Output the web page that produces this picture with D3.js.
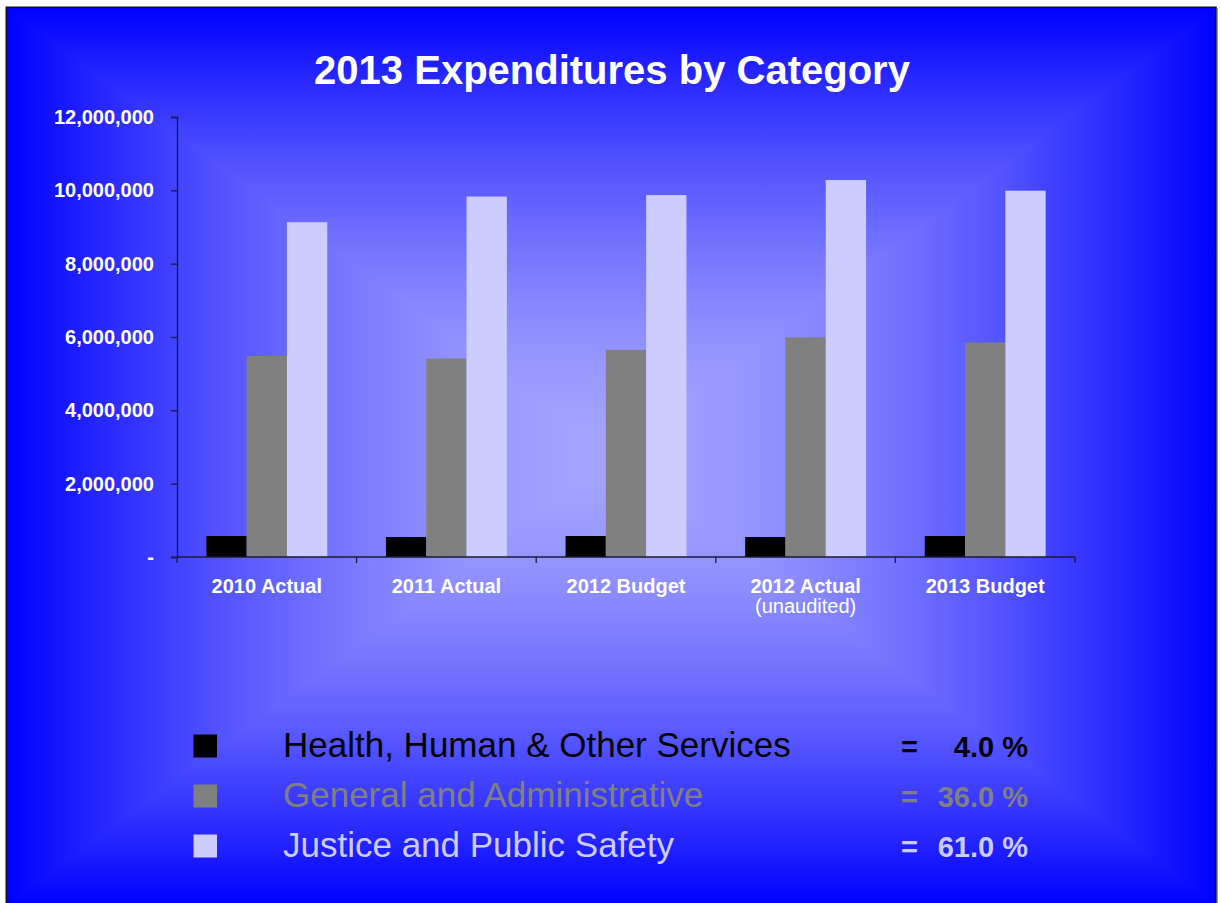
<!DOCTYPE html>
<html>
<head>
<meta charset="utf-8">
<script src="https://cdn.jsdelivr.net/npm/d3@7"></script>
<style>
  html, body { margin: 0; padding: 0; background: #ffffff; }
  svg { display: block; }
  text { font-family: "Liberation Sans", Arial, sans-serif; }
</style>
</head>
<body>
<svg id="chart" width="1222" height="903"></svg>
<script>
// ---- data ----
const categories = ["2010 Actual", "2011 Actual", "2012 Budget", "2012 Actual", "2013 Budget"];
const subLabels = ["", "", "", "(unaudited)", ""];
const seriesNames = ["Health, Human & Other Services", "General and Administrative", "Justice and Public Safety"];
const healthValues = [573000, 545000, 573000, 545000, 573000];
const generalValues = [5480000, 5410000, 5650000, 5990000, 5850000];
const justiceValues = [9130000, 9830000, 9870000, 10280000, 9990000];
const sharePercent = [4.0, 36.0, 61.0];
const yTicks = [0, 2000000, 4000000, 6000000, 8000000, 10000000, 12000000];

const seriesValues = [healthValues, generalValues, justiceValues];
const seriesColors = ["#000000", "#808080", "#ccccff"];

const svg = d3.select("#chart");
const W = 1222, H = 903;

// ---- slide background: rectangular gradient from a light centre to blue edges ----
const bg = { x0: 7, y0: 8, x1: 1216, y1: 905 };
const cx = (bg.x0 + bg.x1) / 2, cy = (bg.y0 + bg.y1) / 2;
const defs = svg.append("defs");
const edge = [0, 0, 255], centre = [164, 164, 255];
function shade(t) {
  const f = 1 - Math.pow(1 - t, 1.6);
  return d3.rgb(
    Math.round(edge[0] + (centre[0] - edge[0]) * f),
    Math.round(edge[1] + (centre[1] - edge[1]) * f),
    255
  ).formatHex();
}
const stopsT = d3.range(0, 1.0001, 0.05);
// top/bottom halves are drawn as a full band first; left/right wedges sit on top
const sides = [
  { id: "gTop", x1: cx, y1: bg.y0, x2: cx, y2: cy, pts: [[bg.x0, bg.y0], [bg.x1, bg.y0], [bg.x1, cy + 1], [bg.x0, cy + 1]] },
  { id: "gBottom", x1: cx, y1: bg.y1, x2: cx, y2: cy, pts: [[bg.x0, cy], [bg.x1, cy], [bg.x1, bg.y1], [bg.x0, bg.y1]] },
  { id: "gLeft", x1: bg.x0, y1: cy, x2: cx, y2: cy, pts: [[bg.x0, bg.y0], [cx, cy], [bg.x0, bg.y1]] },
  { id: "gRight", x1: bg.x1, y1: cy, x2: cx, y2: cy, pts: [[bg.x1, bg.y0], [cx, cy], [bg.x1, bg.y1]] }
];
sides.forEach(s => {
  const g = defs.append("linearGradient")
    .attr("id", s.id)
    .attr("gradientUnits", "userSpaceOnUse")
    .attr("x1", s.x1).attr("y1", s.y1).attr("x2", s.x2).attr("y2", s.y2);
  stopsT.forEach(t => g.append("stop").attr("offset", t).attr("stop-color", shade(t)));
});
const bgLayer = svg.append("g");
sides.forEach(s => {
  bgLayer.append("polygon")
    .attr("points", s.pts.map(p => p.join(",")).join(" "))
    .attr("fill", `url(#${s.id})`);
});
// slide frame
svg.append("rect")
  .attr("x", 6.25).attr("y", 7.25)
  .attr("width", bg.x1 - 6.25).attr("height", 920)
  .attr("fill", "none").attr("stroke", "#111111").attr("stroke-width", 1.5);
svg.append("line")
  .attr("x1", 1217.5).attr("x2", 1217.5).attr("y1", 8).attr("y2", H)
  .attr("stroke", "#9a9a9a").attr("stroke-width", 1);

// ---- title ----
svg.append("text")
  .attr("x", 612).attr("y", 84)
  .attr("text-anchor", "middle")
  .attr("fill", "#ffffff")
  .attr("font-size", 40).attr("font-weight", "bold")
  .text("2013 Expenditures by Category");

// ---- scales ----
const plot = { left: 177, right: 1075, top: 117, bottom: 557 };
const y = d3.scaleLinear().domain([0, 12000000]).range([plot.bottom, plot.top]);
const x0 = d3.scaleBand().domain(categories).range([plot.left, plot.right]).padding(0);
const x1 = d3.scaleBand().domain(d3.range(seriesValues.length))
  .range([0, x0.bandwidth()]).paddingInner(0).paddingOuter(0.728);

// ---- bars ----
const barsG = svg.append("g");
seriesValues.forEach((vals, si) => {
  barsG.selectAll(null)
    .data(vals.map((v, i) => ({ cat: categories[i], v })))
    .enter().append("rect")
    .attr("x", d => x0(d.cat) + x1(si))
    .attr("y", d => y(d.v))
    .attr("width", x1.bandwidth())
    .attr("height", d => y(0) - y(d.v))
    .attr("fill", seriesColors[si]);
});

// ---- y axis ----
const yAxis = d3.axisLeft(y)
  .tickValues(yTicks)
  .tickSize(6)
  .tickPadding(17)
  .tickFormat(d => d === 0 ? "-" : d3.format(",")(d));
const yg = svg.append("g").attr("transform", `translate(${plot.left},0)`).call(yAxis);
yg.select(".domain").attr("stroke", "#1a1a3a").attr("stroke-width", 1.3);
yg.selectAll(".tick line").attr("stroke", "#1a1a3a").attr("stroke-width", 1.3);
yg.selectAll(".tick text")
  .attr("fill", "#ffffff")
  .attr("font-size", 20).attr("font-weight", "bold")
  .attr("font-family", "Liberation Sans, Arial, sans-serif");

// ---- x axis (ticks between categories) ----
const xg = svg.append("g");
xg.append("line")
  .attr("x1", plot.left).attr("x2", plot.right)
  .attr("y1", y(0)).attr("y2", y(0))
  .attr("stroke", "#1a1a3a").attr("stroke-width", 1.3);
const boundaries = categories.map(c => x0(c)).concat([plot.right]);
xg.selectAll(null).data(boundaries).enter().append("line")
  .attr("x1", d => d).attr("x2", d => d)
  .attr("y1", y(0)).attr("y2", y(0) + 6)
  .attr("stroke", "#1a1a3a").attr("stroke-width", 1.3);
xg.selectAll(null).data(categories).enter().append("text")
  .attr("x", d => x0(d) + x0.bandwidth() / 2)
  .attr("y", 593)
  .attr("text-anchor", "middle")
  .attr("fill", "#ffffff")
  .attr("font-size", 20).attr("font-weight", "bold")
  .text(d => d);
xg.selectAll(null).data(categories.map((c, i) => ({ c, s: subLabels[i] })).filter(d => d.s))
  .enter().append("text")
  .attr("x", d => x0(d.c) + x0.bandwidth() / 2)
  .attr("y", 613)
  .attr("text-anchor", "middle")
  .attr("fill", "#ffffff")
  .attr("font-size", 20)
  .text(d => d.s);

// ---- legend with shares ----
const legend = svg.append("g");
const rowY = d3.scalePoint().domain(d3.range(seriesNames.length)).range([757, 857]);
seriesNames.forEach((name, i) => {
  const by = rowY(i);
  legend.append("rect")
    .attr("x", 193.5).attr("y", by - 22.5)
    .attr("width", 23.5).attr("height", 23)
    .attr("fill", seriesColors[i]);
  legend.append("text")
    .attr("x", 283).attr("y", by)
    .attr("fill", seriesColors[i])
    .attr("font-size", 35)
    .text(name);
  legend.append("text")
    .attr("x", 901).attr("y", by)
    .attr("fill", seriesColors[i])
    .attr("font-size", 29).attr("font-weight", "bold")
    .text("=");
  legend.append("text")
    .attr("x", 1028).attr("y", by)
    .attr("text-anchor", "end")
    .attr("fill", seriesColors[i])
    .attr("font-size", 29).attr("font-weight", "bold")
    .text(d3.format(".1f")(sharePercent[i]) + " %");
});
</script>
</body>
</html>
